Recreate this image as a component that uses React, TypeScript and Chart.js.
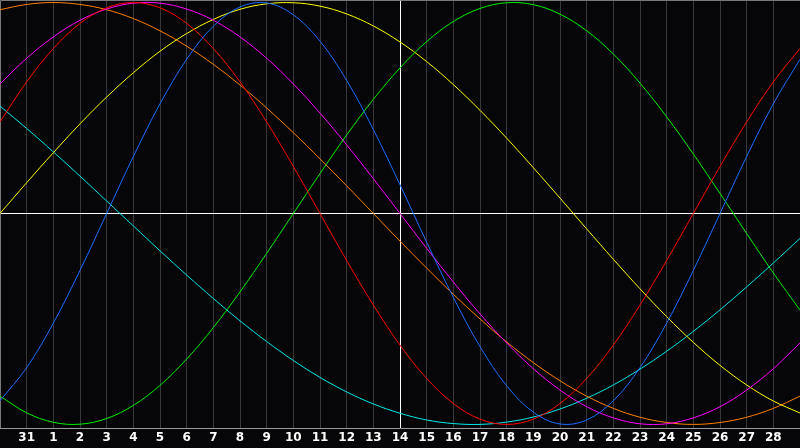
import React, { useEffect, useRef } from "react";
import { Chart, registerables } from "chart.js";

Chart.register(...registerables);

// Day positions on the x axis (-1 = left edge, 14 = today, 29 = right edge)
const DAYS: number[] = [-1, 0, 1, 2, 3, 4, 5, 6, 7, 8, 9, 10, 11, 12, 13, 14, 15, 16, 17, 18, 19, 20, 21, 22, 23, 24, 25, 26, 27, 28, 29];
// Tick labels for each day position
const DAY_LABELS: string[] = ["", "31", "1", "2", "3", "4", "5", "6", "7", "8", "9", "10", "11", "12", "13", "14", "15", "16", "17", "18", "19", "20", "21", "22", "23", "24", "25", "26", "27", "28", ""];

const BLUE: number[] = [-0.888, -0.731, -0.520, -0.270, 0, 0.270, 0.520, 0.731, 0.888, 0.979, 0.998, 0.942, 0.817, 0.631, 0.398, 0.136, -0.136, -0.398, -0.631, -0.817, -0.942, -0.998, -0.979, -0.888, -0.731, -0.520, -0.270, 0, 0.270, 0.520, 0.731];
const RED: number[] = [0.434, 0.624, 0.782, 0.901, 0.975, 1, 0.975, 0.901, 0.782, 0.624, 0.434, 0.223, 0, -0.223, -0.434, -0.624, -0.782, -0.901, -0.975, -1, -0.975, -0.901, -0.782, -0.624, -0.434, -0.223, 0, 0.223, 0.434, 0.624, 0.782];
const GREEN: number[] = [-0.866, -0.945, -0.990, -0.999, -0.972, -0.910, -0.815, -0.690, -0.541, -0.372, -0.189, 0, 0.189, 0.372, 0.541, 0.690, 0.815, 0.910, 0.972, 0.999, 0.990, 0.945, 0.866, 0.756, 0.618, 0.458, 0.282, 0.095, -0.095, -0.282, -0.458];
const MAGENTA: number[] = [0.614, 0.736, 0.837, 0.916, 0.969, 0.997, 0.997, 0.969, 0.916, 0.837, 0.736, 0.614, 0.476, 0.325, 0.165, 0, -0.165, -0.325, -0.476, -0.614, -0.736, -0.837, -0.916, -0.969, -0.997, -0.997, -0.969, -0.916, -0.837, -0.736, -0.614];
const YELLOW: number[] = [0, 0.146, 0.288, 0.425, 0.552, 0.667, 0.769, 0.853, 0.920, 0.968, 0.994, 0.999, 0.983, 0.946, 0.889, 0.813, 0.720, 0.611, 0.489, 0.357, 0.217, 0.073, -0.073, -0.217, -0.357, -0.489, -0.611, -0.720, -0.813, -0.889, -0.946];
const ORANGE: number[] = [0.966, 0.991, 1, 0.991, 0.966, 0.924, 0.866, 0.793, 0.707, 0.609, 0.5, 0.383, 0.259, 0.131, 0, -0.131, -0.259, -0.383, -0.5, -0.609, -0.707, -0.793, -0.866, -0.924, -0.966, -0.991, -1, -0.991, -0.966, -0.924, -0.866];
const CYAN: number[] = [0.509, 0.403, 0.292, 0.177, 0.059, -0.059, -0.177, -0.292, -0.403, -0.509, -0.607, -0.697, -0.777, -0.846, -0.903, -0.947, -0.979, -0.996, -1.0, -0.989, -0.965, -0.927, -0.876, -0.813, -0.738, -0.653, -0.559, -0.457, -0.348, -0.235, -0.118];

const SERIES: { name: string; values: number[]; color: string }[] = [
  { name: "blue", values: BLUE, color: "#1a6cff" },
  { name: "red", values: RED, color: "#ff0000" },
  { name: "green", values: GREEN, color: "#00f000" },
  { name: "magenta", values: MAGENTA, color: "#ff00ff" },
  { name: "yellow", values: YELLOW, color: "#ffff00" },
  { name: "orange", values: ORANGE, color: "#ff8000" },
  { name: "cyan", values: CYAN, color: "#00e8e8" },
];

const TODAY = 14;

const framePlugin = {
  id: "frame",
  beforeDraw(chart: any) {
    const ctx = chart.ctx;
    ctx.save();
    ctx.fillStyle = "#060608";
    ctx.fillRect(0, 0, chart.width, chart.height);
    ctx.restore();
  },
  beforeDatasetsDraw(chart: any) {
    const ctx = chart.ctx;
    const { left, right, top, bottom } = chart.chartArea;
    const y0 = Math.round(chart.scales.y.getPixelForValue(0)) + 0.5;
    ctx.save();
    ctx.lineWidth = 1;
    ctx.strokeStyle = "#ffffff";
    ctx.beginPath();
    ctx.moveTo(left, y0);
    ctx.lineTo(right, y0);
    ctx.stroke();
    ctx.strokeStyle = "#7a7a7a";
    ctx.beginPath();
    ctx.moveTo(left + 0.5, bottom);
    ctx.lineTo(left + 0.5, top + 0.5);
    ctx.lineTo(right, top + 0.5);
    ctx.stroke();
    ctx.restore();
  },
};

export default function App() {
  const ref = useRef<HTMLCanvasElement | null>(null);
  useEffect(() => {
    if (!ref.current) return;
    const chart = new Chart(ref.current, {
      type: "line",
      data: {
        datasets: SERIES.map((s) => ({
          label: s.name,
          data: DAYS.map((d, i) => ({ x: d, y: s.values[i] })),
          borderColor: s.color,
          backgroundColor: s.color,
          borderWidth: 1,
          pointRadius: 0,
          pointHoverRadius: 0,
          pointBorderWidth: 0,
          tension: 0.36,
          fill: false,
        })),
      },
      options: {
        animation: false,
        responsive: false,
        devicePixelRatio: 1,
        layout: { padding: 0, autoPadding: false },
        plugins: { legend: { display: false }, tooltip: { enabled: false } },
        scales: {
          x: {
            type: "linear",
            min: DAYS[0],
            max: DAYS[DAYS.length - 1],
            afterBuildTicks: (scale: any) => {
              scale.ticks = DAYS.map((d) => ({ value: d }));
            },
            ticks: {
              autoSkip: false,
              maxRotation: 0,
              padding: 0,
              color: "#ffffff",
              font: { family: "DejaVu Sans", size: 12, weight: "bold", lineHeight: 20 / 12 },
              callback: (_v: any, i: number) => DAY_LABELS[i],
            },
            grid: {
              drawTicks: false,
              lineWidth: 1,
              color: (c: any) =>
                c.tick && c.tick.value === TODAY
                  ? "#ffffff"
                  : c.tick && (c.tick.value === DAYS[0] || c.tick.value === DAYS[DAYS.length - 1])
                  ? "rgba(0,0,0,0)"
                  : "#383838",
            },
            border: { display: true, color: "#9a9a9a", width: 1 },
          },
          y: {
            display: false,
            min: -1.017,
            max: 1.012,
          },
        },
      },
      plugins: [framePlugin],
    });
    return () => chart.destroy();
  }, []);
  return (
    <div style={{ position: "fixed", left: 0, top: 0, width: 800, height: 448, background: "#060608" }}>
      <canvas ref={ref} width={800} height={448} style={{ display: "block" }} />
    </div>
  );
}
